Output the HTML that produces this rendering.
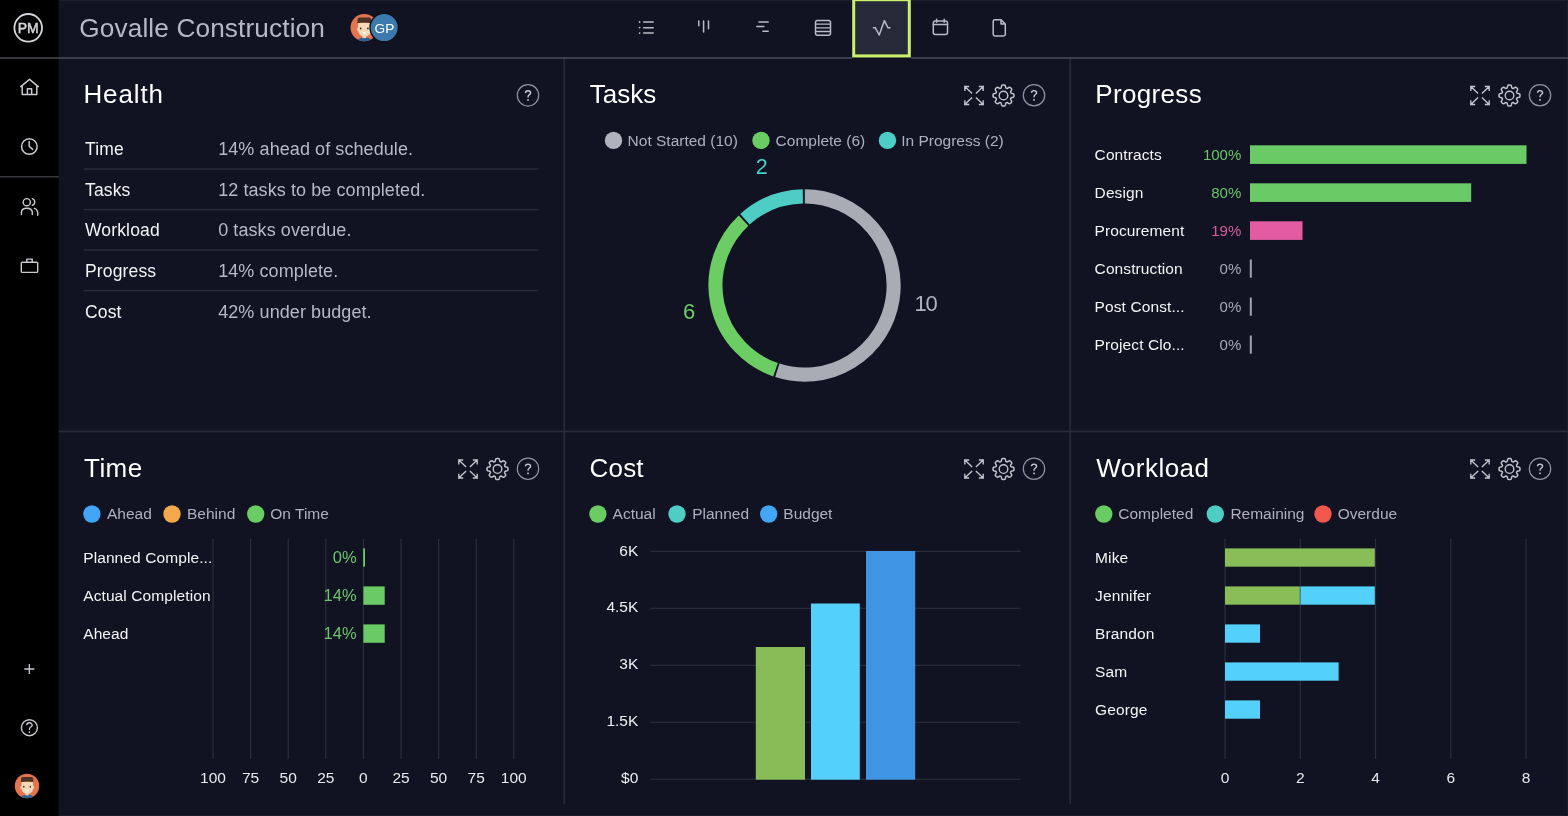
<!DOCTYPE html>
<html><head><meta charset="utf-8"><style>
html,body{margin:0;padding:0;background:#111322;width:1568px;height:816px;overflow:hidden}
svg{display:block;will-change:transform}
text{font-family:"Liberation Sans", sans-serif}
</style></head><body>
<svg width="1568" height="816" viewBox="0 0 1568 816">
<rect x="0" y="0" width="1568" height="816" fill="#111322"/>
<rect x="0" y="0" width="58.8" height="816" fill="#000"/>
<rect x="58.8" y="0" width="1.2" height="816" fill="#151624" opacity="0.8"/>
<rect x="59" y="0" width="1509" height="1.2" fill="#1c1e2b"/>
<rect x="1566.8" y="0" width="1.2" height="816" fill="#1b1d2a"/>
<rect x="58.8" y="815" width="1509" height="1" fill="#1a1c29"/>
<rect x="0" y="57" width="1568" height="2" fill="#3b3e4b"/>
<rect x="0" y="57" width="58.8" height="2" fill="#36373c"/>
<rect x="0" y="176" width="58.8" height="1.5" fill="#3a3b40"/>
<rect x="563.3" y="59" width="1.8" height="745" fill="#262936"/>
<rect x="1069.2" y="59" width="1.8" height="745" fill="#262936"/>
<rect x="58.8" y="430.6" width="1509" height="1.7" fill="#2a2c39"/>
<circle cx="28.2" cy="27.8" r="13.8" stroke="#d4d5da" stroke-width="1.8" fill="none"/>
<text x="28.2" y="33.2" font-size="14" fill="#d4d5da" text-anchor="middle" font-weight="normal" stroke="#d4d5da" stroke-width="0.5">PM</text>
<path d="M20.8 86.6 L29.5 79.4 L38.3 86.6 M22.2 85.4 V94.4 H36.8 V85.4 M27.4 94.4 V88.8 H31.6 V94.4" stroke="#c9cad0" stroke-width="1.5" fill="none" stroke-linejoin="round" stroke-linecap="round"/>
<circle cx="29.35" cy="146.5" r="7.8" stroke="#c9cad0" stroke-width="1.5" fill="none"/>
<path d="M29.2 141.6 V146.3 L32.6 149.4" stroke="#c9cad0" stroke-width="1.5" fill="none" stroke-linecap="round" stroke-linejoin="round"/>
<circle cx="26.8" cy="202.2" r="3.6" stroke="#c9cad0" stroke-width="1.4" fill="none"/>
<path d="M21.4 214.6 V212.6 Q21.4 208.3 26.8 208.3 Q32.3 208.3 32.3 212.6 V214.6" stroke="#c9cad0" stroke-width="1.4" fill="none" stroke-linecap="round"/>
<path d="M32.3 198.6 A3.6 3.6 0 0 1 32.3 205.4" stroke="#c9cad0" stroke-width="1.4" fill="none" stroke-linecap="round"/>
<path d="M34.3 208.3 A5 5 0 0 1 37.7 213 V215.3" stroke="#c9cad0" stroke-width="1.4" fill="none" stroke-linecap="round"/>
<rect x="21.3" y="262.3" width="16.4" height="10.1" rx="1" stroke="#c9cad0" stroke-width="1.4" fill="none"/>
<path d="M26.8 262.3 V259.1 H32.2 V262.3" stroke="#c9cad0" stroke-width="1.4" fill="none" stroke-linejoin="round"/>
<path d="M29.3 664 V674 M24.3 669 H34.3" stroke="#c9cad0" stroke-width="1.3" fill="none"/>
<circle cx="29.4" cy="727.7" r="8" stroke="#c9cad0" stroke-width="1.4" fill="none"/>
<path transform="translate(29.4,727.6) scale(0.95)" d="M-2.8 -2.6 C-2.8 -4.4 -1.6 -5.1 0 -5.1 C1.7 -5.1 2.9 -4.1 2.9 -2.6 C2.9 -0.7 0.1 -0.7 0.1 1.3 V2.4" stroke="#c9cad0" stroke-width="1.4" fill="none"/>
<rect x="28.65" y="731.4" width="1.5" height="1.5" fill="#c9cad0"/>
<g transform="translate(27,786) scale(1.000)">
<circle cx="0" cy="0" r="12.25" fill="#e4744f"/>
<clipPath id="avca"><circle cx="0" cy="0" r="12.25"/></clipPath>
<g clip-path="url(#avca)">
<ellipse cx="0.3" cy="11.8" rx="6" ry="3.2" fill="#2b5f96"/>
<rect x="-1.6" y="6" width="3.4" height="3.4" fill="#f3d3b3"/>
<ellipse cx="-5.6" cy="1.4" rx="1.1" ry="1.6" fill="#f0c9a4"/><ellipse cx="6.2" cy="1.4" rx="1.1" ry="1.6" fill="#f0c9a4"/>
<path d="M-5.4 -4.2 V2.5 Q-5.2 7.6 0.3 7.8 Q5.9 7.6 6 2.5 V-4.2 Z" fill="#f6d9b8"/>
<path d="M-6 -4 V-7.2 Q-6 -9 -4 -9 H4.4 Q6.3 -9 6.3 -7.2 V-4 Q0 -5.2 -6 -4 Z" fill="#4b3326"/>
<ellipse cx="-3.2" cy="0.8" rx="0.75" ry="0.95" fill="#3a2418"/><ellipse cx="3.3" cy="0.8" rx="0.75" ry="0.95" fill="#3a2418"/>
<ellipse cx="0.2" cy="4.7" rx="1.5" ry="0.8" fill="#ffffff"/>
</g></g>
<text x="79.3" y="37.1" font-size="26.2" fill="#b5b8c6" text-anchor="start" font-weight="normal" letter-spacing="0.13" >Govalle Construction</text>
<g transform="translate(364.2,27.6) scale(1.118)">
<circle cx="0" cy="0" r="12.25" fill="#e4744f"/>
<clipPath id="avcb"><circle cx="0" cy="0" r="12.25"/></clipPath>
<g clip-path="url(#avcb)">
<ellipse cx="0.3" cy="11.8" rx="6" ry="3.2" fill="#2b5f96"/>
<rect x="-1.6" y="6" width="3.4" height="3.4" fill="#f3d3b3"/>
<ellipse cx="-5.6" cy="1.4" rx="1.1" ry="1.6" fill="#f0c9a4"/><ellipse cx="6.2" cy="1.4" rx="1.1" ry="1.6" fill="#f0c9a4"/>
<path d="M-5.4 -4.2 V2.5 Q-5.2 7.6 0.3 7.8 Q5.9 7.6 6 2.5 V-4.2 Z" fill="#f6d9b8"/>
<path d="M-6 -4 V-7.2 Q-6 -9 -4 -9 H4.4 Q6.3 -9 6.3 -7.2 V-4 Q0 -5.2 -6 -4 Z" fill="#4b3326"/>
<ellipse cx="-3.2" cy="0.8" rx="0.75" ry="0.95" fill="#3a2418"/><ellipse cx="3.3" cy="0.8" rx="0.75" ry="0.95" fill="#3a2418"/>
<ellipse cx="0.2" cy="4.7" rx="1.5" ry="0.8" fill="#ffffff"/>
</g></g>
<circle cx="384.2" cy="27.6" r="14.2" fill="#3c79ad" stroke="#0d0f18" stroke-width="1.4"/>
<text x="384.4" y="32.8" font-size="13.6" fill="#ffffff" text-anchor="middle" font-weight="normal" >GP</text>
<rect x="852.2" y="57.4" width="58.6" height="1.6" fill="#0f111c"/><rect x="853.7" y="-0.3" width="55.6" height="56.2" fill="#262937" stroke="#cdf06a" stroke-width="3"/>
<path d="M643.7 22.1 H653.2 M643.7 27.7 H653.2 M643.7 33.1 H653.2" stroke="#b9bbc5" stroke-width="1.5" stroke-linecap="round"/>
<circle cx="639.6" cy="22" r="0.9" fill="#b9bbc5"/><circle cx="639.6" cy="27.6" r="0.9" fill="#b9bbc5"/><circle cx="639.6" cy="33.1" r="0.9" fill="#b9bbc5"/>
<path d="M698.8 21.0 V25.8 M703.6 21.0 V32.0 M708.5 21.0 V28.8" stroke="#b9bbc5" stroke-width="1.5" stroke-linecap="round"/>
<path d="M758.9 21.9 H768.2 M756.8 26.6 H763.9 M762.9 31.3 H768.2" stroke="#b9bbc5" stroke-width="1.5" stroke-linecap="round"/>
<rect x="815.5" y="20.4" width="15" height="14.8" rx="2" stroke="#b9bbc5" stroke-width="1.5" fill="none"/>
<path d="M815.5 24.1 H830.5 M815.5 27.8 H830.5 M815.5 31.5 H830.5" stroke="#b9bbc5" stroke-width="1.3"/>
<path d="M873.4 27.7 H875.2 L879.2 35 L884.4 20.6 L887.9 27.7 H890" stroke="#b9bbc5" stroke-width="1.5" fill="none" stroke-linecap="round" stroke-linejoin="round"/>
<rect x="933.3" y="21" width="14.2" height="13.6" rx="2" stroke="#b9bbc5" stroke-width="1.5" fill="none"/>
<path d="M933.3 24.6 H947.5 M936.6 19.2 V22.2 M944.2 19.2 V22.2" stroke="#b9bbc5" stroke-width="1.5" stroke-linecap="round"/>
<path d="M994.8 19.8 H1001 L1005.3 24.1 V34.3 Q1005.3 36 1003.6 36 H994.8 Q993.2 36 993.2 34.3 V21.5 Q993.2 19.8 994.8 19.8 Z M1001 19.8 V24.1 H1005.3" stroke="#b9bbc5" stroke-width="1.5" fill="none" stroke-linejoin="round"/>
<text x="83.4" y="103" font-size="26" fill="#ffffff" text-anchor="start" font-weight="normal" letter-spacing="0.9" >Health</text>
<circle cx="528" cy="95.3" r="10.7" stroke="#8f919d" stroke-width="1.25" fill="none"/>
<path transform="translate(528,95.3) scale(0.9)" d="M-2.8 -2.6 C-2.8 -4.4 -1.6 -5.1 0 -5.1 C1.7 -5.1 2.9 -4.1 2.9 -2.6 C2.9 -0.7 0.1 -0.7 0.1 1.3 V2.4" stroke="#cbcdd5" stroke-width="1.5" fill="none" stroke-linecap="butt"/>
<rect x="527.20" y="99.20" width="1.6" height="1.6" fill="#cbcdd5"/>
<text x="85.0" y="155.3" font-size="17.5" fill="#f4f4f6" text-anchor="start" font-weight="normal" letter-spacing="0.15" >Time</text>
<text x="218.2" y="155.3" font-size="18" fill="#b7bac5" text-anchor="start" font-weight="normal" letter-spacing="0.08" >14% ahead of schedule.</text>
<text x="85.0" y="195.85000000000002" font-size="17.5" fill="#f4f4f6" text-anchor="start" font-weight="normal" letter-spacing="0.15" >Tasks</text>
<text x="218.2" y="195.85000000000002" font-size="18" fill="#b7bac5" text-anchor="start" font-weight="normal" letter-spacing="0.08" >12 tasks to be completed.</text>
<text x="85.0" y="236.4" font-size="17.5" fill="#f4f4f6" text-anchor="start" font-weight="normal" letter-spacing="0.15" >Workload</text>
<text x="218.2" y="236.4" font-size="18" fill="#b7bac5" text-anchor="start" font-weight="normal" letter-spacing="0.08" >0 tasks overdue.</text>
<text x="85.0" y="276.95" font-size="17.5" fill="#f4f4f6" text-anchor="start" font-weight="normal" letter-spacing="0.15" >Progress</text>
<text x="218.2" y="276.95" font-size="18" fill="#b7bac5" text-anchor="start" font-weight="normal" letter-spacing="0.08" >14% complete.</text>
<text x="85.0" y="317.5" font-size="17.5" fill="#f4f4f6" text-anchor="start" font-weight="normal" letter-spacing="0.15" >Cost</text>
<text x="218.2" y="317.5" font-size="18" fill="#b7bac5" text-anchor="start" font-weight="normal" letter-spacing="0.08" >42% under budget.</text>
<rect x="83.6" y="168.30" width="455" height="1.4" fill="#2a2d3a"/>
<rect x="83.6" y="208.85" width="455" height="1.4" fill="#2a2d3a"/>
<rect x="83.6" y="249.40" width="455" height="1.4" fill="#2a2d3a"/>
<rect x="83.6" y="289.95" width="455" height="1.4" fill="#2a2d3a"/>
<text x="589.8" y="103" font-size="26" fill="#ffffff" text-anchor="start" font-weight="normal" >Tasks</text>
<circle cx="1034" cy="95.2" r="10.7" stroke="#8f919d" stroke-width="1.25" fill="none"/>
<path transform="translate(1034,95.2) scale(0.9)" d="M-2.8 -2.6 C-2.8 -4.4 -1.6 -5.1 0 -5.1 C1.7 -5.1 2.9 -4.1 2.9 -2.6 C2.9 -0.7 0.1 -0.7 0.1 1.3 V2.4" stroke="#cbcdd5" stroke-width="1.5" fill="none" stroke-linecap="butt"/>
<rect x="1033.20" y="99.10" width="1.6" height="1.6" fill="#cbcdd5"/>
<path d="M1003.50 85.00 L1003.91 85.01 L1004.32 85.06 L1004.72 85.18 L1005.09 85.44 L1005.39 86.01 L1005.58 86.85 L1005.74 87.56 L1005.95 87.97 L1006.20 88.19 L1006.47 88.34 L1006.76 88.43 L1007.09 88.45 L1007.53 88.31 L1008.15 87.92 L1008.88 87.46 L1009.49 87.26 L1009.93 87.34 L1010.30 87.54 L1010.62 87.79 L1010.92 88.08 L1011.21 88.38 L1011.46 88.70 L1011.66 89.07 L1011.74 89.51 L1011.54 90.12 L1011.08 90.85 L1010.69 91.47 L1010.55 91.91 L1010.57 92.24 L1010.66 92.53 L1010.81 92.80 L1011.03 93.05 L1011.44 93.26 L1012.15 93.42 L1012.99 93.61 L1013.56 93.91 L1013.82 94.28 L1013.94 94.68 L1013.99 95.09 L1014.00 95.50 L1013.99 95.91 L1013.94 96.32 L1013.82 96.72 L1013.56 97.09 L1012.99 97.39 L1012.15 97.58 L1011.44 97.74 L1011.03 97.95 L1010.81 98.20 L1010.66 98.47 L1010.57 98.76 L1010.55 99.09 L1010.69 99.53 L1011.08 100.15 L1011.54 100.88 L1011.74 101.49 L1011.66 101.93 L1011.46 102.30 L1011.21 102.62 L1010.92 102.92 L1010.62 103.21 L1010.30 103.46 L1009.93 103.66 L1009.49 103.74 L1008.88 103.54 L1008.15 103.08 L1007.53 102.69 L1007.09 102.55 L1006.76 102.57 L1006.47 102.66 L1006.20 102.81 L1005.95 103.03 L1005.74 103.44 L1005.58 104.15 L1005.39 104.99 L1005.09 105.56 L1004.72 105.82 L1004.32 105.94 L1003.91 105.99 L1003.50 106.00 L1003.09 105.99 L1002.68 105.94 L1002.28 105.82 L1001.91 105.56 L1001.61 104.99 L1001.42 104.15 L1001.26 103.44 L1001.05 103.03 L1000.80 102.81 L1000.53 102.66 L1000.24 102.57 L999.91 102.55 L999.47 102.69 L998.85 103.08 L998.12 103.54 L997.51 103.74 L997.07 103.66 L996.70 103.46 L996.38 103.21 L996.08 102.92 L995.79 102.62 L995.54 102.30 L995.34 101.93 L995.26 101.49 L995.46 100.88 L995.92 100.15 L996.31 99.53 L996.45 99.09 L996.43 98.76 L996.34 98.47 L996.19 98.20 L995.97 97.95 L995.56 97.74 L994.85 97.58 L994.01 97.39 L993.44 97.09 L993.18 96.72 L993.06 96.32 L993.01 95.91 L993.00 95.50 L993.01 95.09 L993.06 94.68 L993.18 94.28 L993.44 93.91 L994.01 93.61 L994.85 93.42 L995.56 93.26 L995.97 93.05 L996.19 92.80 L996.34 92.53 L996.43 92.24 L996.45 91.91 L996.31 91.47 L995.92 90.85 L995.46 90.12 L995.26 89.51 L995.34 89.07 L995.54 88.70 L995.79 88.38 L996.08 88.08 L996.38 87.79 L996.70 87.54 L997.07 87.34 L997.51 87.26 L998.12 87.46 L998.85 87.92 L999.47 88.31 L999.91 88.45 L1000.24 88.43 L1000.53 88.34 L1000.80 88.19 L1001.05 87.97 L1001.26 87.56 L1001.42 86.85 L1001.61 86.01 L1001.91 85.44 L1002.28 85.18 L1002.68 85.06 L1003.09 85.01Z" stroke="#c3c5cd" stroke-width="1.45" fill="none" stroke-linejoin="round"/>
<circle cx="1003.5" cy="95.5" r="4.3" stroke="#c3c5cd" stroke-width="1.35" fill="none"/>
<path d="M971.6 93.1L964.8 86.5 M968.5 86.5L964.8 86.5L964.8 90.2 M976.4 93.1L983.2 86.5 M979.5 86.5L983.2 86.5L983.2 90.2 M971.6 97.9L964.8 104.5 M968.5 104.5L964.8 104.5L964.8 100.8 M976.4 97.9L983.2 104.5 M979.5 104.5L983.2 104.5L983.2 100.8" stroke="#c3c5cd" stroke-width="1.35" fill="none" stroke-linecap="square" stroke-linejoin="miter"/>
<circle cx="613.5" cy="140.4" r="8.7" fill="#b0b3bd"/>
<text x="627.6" y="145.8" font-size="15.5" fill="#aeb1bc" text-anchor="start" font-weight="normal" >Not Started (10)</text>
<circle cx="761" cy="140.4" r="8.7" fill="#6acd63"/>
<text x="775.6" y="145.8" font-size="15.5" fill="#aeb1bc" text-anchor="start" font-weight="normal" >Complete (6)</text>
<circle cx="887.5" cy="140.4" r="8.7" fill="#4ecdc4"/>
<text x="901.2" y="145.8" font-size="15.5" fill="#aeb1bc" text-anchor="start" font-weight="normal" >In Progress (2)</text>
<path d="M804.86 196.40 A89.1 89.1 0 1 1 777.31 370.33" stroke="#a9acb5" stroke-width="14.1" fill="none"/>
<path d="M775.54 369.75 A89.1 89.1 0 0 1 743.56 220.55" stroke="#6dcd65" stroke-width="14.1" fill="none"/>
<path d="M744.93 219.29 A89.1 89.1 0 0 1 802.84 196.42" stroke="#4ecdc4" stroke-width="14.1" fill="none"/>
<text x="761.8" y="174.4" font-size="21.5" fill="#4ecdc4" text-anchor="middle" font-weight="normal" >2</text>
<text x="925.4" y="311" font-size="22" fill="#b0b3bd" text-anchor="middle" font-weight="normal" letter-spacing="-1.3" >10</text>
<text x="689" y="318.6" font-size="22" fill="#6dcd65" text-anchor="middle" font-weight="normal" >6</text>
<text x="1095.2" y="103" font-size="26" fill="#ffffff" text-anchor="start" font-weight="normal" letter-spacing="0.35" >Progress</text>
<circle cx="1540" cy="95.2" r="10.7" stroke="#8f919d" stroke-width="1.25" fill="none"/>
<path transform="translate(1540,95.2) scale(0.9)" d="M-2.8 -2.6 C-2.8 -4.4 -1.6 -5.1 0 -5.1 C1.7 -5.1 2.9 -4.1 2.9 -2.6 C2.9 -0.7 0.1 -0.7 0.1 1.3 V2.4" stroke="#cbcdd5" stroke-width="1.5" fill="none" stroke-linecap="butt"/>
<rect x="1539.20" y="99.10" width="1.6" height="1.6" fill="#cbcdd5"/>
<path d="M1509.50 85.00 L1509.91 85.01 L1510.32 85.06 L1510.72 85.18 L1511.09 85.44 L1511.39 86.01 L1511.58 86.85 L1511.74 87.56 L1511.95 87.97 L1512.20 88.19 L1512.47 88.34 L1512.76 88.43 L1513.09 88.45 L1513.53 88.31 L1514.15 87.92 L1514.88 87.46 L1515.49 87.26 L1515.93 87.34 L1516.30 87.54 L1516.62 87.79 L1516.92 88.08 L1517.21 88.38 L1517.46 88.70 L1517.66 89.07 L1517.74 89.51 L1517.54 90.12 L1517.08 90.85 L1516.69 91.47 L1516.55 91.91 L1516.57 92.24 L1516.66 92.53 L1516.81 92.80 L1517.03 93.05 L1517.44 93.26 L1518.15 93.42 L1518.99 93.61 L1519.56 93.91 L1519.82 94.28 L1519.94 94.68 L1519.99 95.09 L1520.00 95.50 L1519.99 95.91 L1519.94 96.32 L1519.82 96.72 L1519.56 97.09 L1518.99 97.39 L1518.15 97.58 L1517.44 97.74 L1517.03 97.95 L1516.81 98.20 L1516.66 98.47 L1516.57 98.76 L1516.55 99.09 L1516.69 99.53 L1517.08 100.15 L1517.54 100.88 L1517.74 101.49 L1517.66 101.93 L1517.46 102.30 L1517.21 102.62 L1516.92 102.92 L1516.62 103.21 L1516.30 103.46 L1515.93 103.66 L1515.49 103.74 L1514.88 103.54 L1514.15 103.08 L1513.53 102.69 L1513.09 102.55 L1512.76 102.57 L1512.47 102.66 L1512.20 102.81 L1511.95 103.03 L1511.74 103.44 L1511.58 104.15 L1511.39 104.99 L1511.09 105.56 L1510.72 105.82 L1510.32 105.94 L1509.91 105.99 L1509.50 106.00 L1509.09 105.99 L1508.68 105.94 L1508.28 105.82 L1507.91 105.56 L1507.61 104.99 L1507.42 104.15 L1507.26 103.44 L1507.05 103.03 L1506.80 102.81 L1506.53 102.66 L1506.24 102.57 L1505.91 102.55 L1505.47 102.69 L1504.85 103.08 L1504.12 103.54 L1503.51 103.74 L1503.07 103.66 L1502.70 103.46 L1502.38 103.21 L1502.08 102.92 L1501.79 102.62 L1501.54 102.30 L1501.34 101.93 L1501.26 101.49 L1501.46 100.88 L1501.92 100.15 L1502.31 99.53 L1502.45 99.09 L1502.43 98.76 L1502.34 98.47 L1502.19 98.20 L1501.97 97.95 L1501.56 97.74 L1500.85 97.58 L1500.01 97.39 L1499.44 97.09 L1499.18 96.72 L1499.06 96.32 L1499.01 95.91 L1499.00 95.50 L1499.01 95.09 L1499.06 94.68 L1499.18 94.28 L1499.44 93.91 L1500.01 93.61 L1500.85 93.42 L1501.56 93.26 L1501.97 93.05 L1502.19 92.80 L1502.34 92.53 L1502.43 92.24 L1502.45 91.91 L1502.31 91.47 L1501.92 90.85 L1501.46 90.12 L1501.26 89.51 L1501.34 89.07 L1501.54 88.70 L1501.79 88.38 L1502.08 88.08 L1502.38 87.79 L1502.70 87.54 L1503.07 87.34 L1503.51 87.26 L1504.12 87.46 L1504.85 87.92 L1505.47 88.31 L1505.91 88.45 L1506.24 88.43 L1506.53 88.34 L1506.80 88.19 L1507.05 87.97 L1507.26 87.56 L1507.42 86.85 L1507.61 86.01 L1507.91 85.44 L1508.28 85.18 L1508.68 85.06 L1509.09 85.01Z" stroke="#c3c5cd" stroke-width="1.45" fill="none" stroke-linejoin="round"/>
<circle cx="1509.5" cy="95.5" r="4.3" stroke="#c3c5cd" stroke-width="1.35" fill="none"/>
<path d="M1477.6 93.1L1470.8 86.5 M1474.5 86.5L1470.8 86.5L1470.8 90.2 M1482.4 93.1L1489.2 86.5 M1485.5 86.5L1489.2 86.5L1489.2 90.2 M1477.6 97.9L1470.8 104.5 M1474.5 104.5L1470.8 104.5L1470.8 100.8 M1482.4 97.9L1489.2 104.5 M1485.5 104.5L1489.2 104.5L1489.2 100.8" stroke="#c3c5cd" stroke-width="1.35" fill="none" stroke-linecap="square" stroke-linejoin="miter"/>
<text x="1094.6" y="159.9" font-size="15.5" fill="#f4f4f6" text-anchor="start" font-weight="normal" letter-spacing="0.1" >Contracts</text>
<text x="1241.3" y="159.9" font-size="15" fill="#6bc66a" text-anchor="end" font-weight="normal" >100%</text>
<rect x="1250" y="145.3" width="276.5" height="18.6" fill="#6acb66"/>
<text x="1094.6" y="197.9" font-size="15.5" fill="#f4f4f6" text-anchor="start" font-weight="normal" letter-spacing="0.1" >Design</text>
<text x="1241.3" y="197.9" font-size="15" fill="#6bc66a" text-anchor="end" font-weight="normal" >80%</text>
<rect x="1250" y="183.3" width="221.2" height="18.6" fill="#6acb66"/>
<text x="1094.6" y="235.9" font-size="15.5" fill="#f4f4f6" text-anchor="start" font-weight="normal" letter-spacing="0.1" >Procurement</text>
<text x="1241.3" y="235.9" font-size="15" fill="#d65d9f" text-anchor="end" font-weight="normal" >19%</text>
<rect x="1250" y="221.3" width="52.5" height="18.6" fill="#e35ca2"/>
<text x="1094.6" y="273.9" font-size="15.5" fill="#f4f4f6" text-anchor="start" font-weight="normal" letter-spacing="0.1" >Construction</text>
<text x="1241.3" y="273.9" font-size="15" fill="#a7aab5" text-anchor="end" font-weight="normal" >0%</text>
<rect x="1249.8" y="259.5" width="2" height="18.2" fill="#a0a3ae"/>
<text x="1094.6" y="311.9" font-size="15.5" fill="#f4f4f6" text-anchor="start" font-weight="normal" letter-spacing="0.1" >Post Const...</text>
<text x="1241.3" y="311.9" font-size="15" fill="#a7aab5" text-anchor="end" font-weight="normal" >0%</text>
<rect x="1249.8" y="297.5" width="2" height="18.2" fill="#a0a3ae"/>
<text x="1094.6" y="349.9" font-size="15.5" fill="#f4f4f6" text-anchor="start" font-weight="normal" letter-spacing="0.1" >Project Clo...</text>
<text x="1241.3" y="349.9" font-size="15" fill="#a7aab5" text-anchor="end" font-weight="normal" >0%</text>
<rect x="1249.8" y="335.5" width="2" height="18.2" fill="#a0a3ae"/>
<text x="84.1" y="477" font-size="26" fill="#ffffff" text-anchor="start" font-weight="normal" letter-spacing="0.4" >Time</text>
<circle cx="528" cy="468.7" r="10.7" stroke="#8f919d" stroke-width="1.25" fill="none"/>
<path transform="translate(528,468.7) scale(0.9)" d="M-2.8 -2.6 C-2.8 -4.4 -1.6 -5.1 0 -5.1 C1.7 -5.1 2.9 -4.1 2.9 -2.6 C2.9 -0.7 0.1 -0.7 0.1 1.3 V2.4" stroke="#cbcdd5" stroke-width="1.5" fill="none" stroke-linecap="butt"/>
<rect x="527.20" y="472.60" width="1.6" height="1.6" fill="#cbcdd5"/>
<path d="M497.50 458.50 L497.91 458.51 L498.32 458.56 L498.72 458.68 L499.09 458.94 L499.39 459.51 L499.58 460.35 L499.74 461.06 L499.95 461.47 L500.20 461.69 L500.47 461.84 L500.76 461.93 L501.09 461.95 L501.53 461.81 L502.15 461.42 L502.88 460.96 L503.49 460.76 L503.93 460.84 L504.30 461.04 L504.62 461.29 L504.92 461.58 L505.21 461.88 L505.46 462.20 L505.66 462.57 L505.74 463.01 L505.54 463.62 L505.08 464.35 L504.69 464.97 L504.55 465.41 L504.57 465.74 L504.66 466.03 L504.81 466.30 L505.03 466.55 L505.44 466.76 L506.15 466.92 L506.99 467.11 L507.56 467.41 L507.82 467.78 L507.94 468.18 L507.99 468.59 L508.00 469.00 L507.99 469.41 L507.94 469.82 L507.82 470.22 L507.56 470.59 L506.99 470.89 L506.15 471.08 L505.44 471.24 L505.03 471.45 L504.81 471.70 L504.66 471.97 L504.57 472.26 L504.55 472.59 L504.69 473.03 L505.08 473.65 L505.54 474.38 L505.74 474.99 L505.66 475.43 L505.46 475.80 L505.21 476.12 L504.92 476.42 L504.62 476.71 L504.30 476.96 L503.93 477.16 L503.49 477.24 L502.88 477.04 L502.15 476.58 L501.53 476.19 L501.09 476.05 L500.76 476.07 L500.47 476.16 L500.20 476.31 L499.95 476.53 L499.74 476.94 L499.58 477.65 L499.39 478.49 L499.09 479.06 L498.72 479.32 L498.32 479.44 L497.91 479.49 L497.50 479.50 L497.09 479.49 L496.68 479.44 L496.28 479.32 L495.91 479.06 L495.61 478.49 L495.42 477.65 L495.26 476.94 L495.05 476.53 L494.80 476.31 L494.53 476.16 L494.24 476.07 L493.91 476.05 L493.47 476.19 L492.85 476.58 L492.12 477.04 L491.51 477.24 L491.07 477.16 L490.70 476.96 L490.38 476.71 L490.08 476.42 L489.79 476.12 L489.54 475.80 L489.34 475.43 L489.26 474.99 L489.46 474.38 L489.92 473.65 L490.31 473.03 L490.45 472.59 L490.43 472.26 L490.34 471.97 L490.19 471.70 L489.97 471.45 L489.56 471.24 L488.85 471.08 L488.01 470.89 L487.44 470.59 L487.18 470.22 L487.06 469.82 L487.01 469.41 L487.00 469.00 L487.01 468.59 L487.06 468.18 L487.18 467.78 L487.44 467.41 L488.01 467.11 L488.85 466.92 L489.56 466.76 L489.97 466.55 L490.19 466.30 L490.34 466.03 L490.43 465.74 L490.45 465.41 L490.31 464.97 L489.92 464.35 L489.46 463.62 L489.26 463.01 L489.34 462.57 L489.54 462.20 L489.79 461.88 L490.08 461.58 L490.38 461.29 L490.70 461.04 L491.07 460.84 L491.51 460.76 L492.12 460.96 L492.85 461.42 L493.47 461.81 L493.91 461.95 L494.24 461.93 L494.53 461.84 L494.80 461.69 L495.05 461.47 L495.26 461.06 L495.42 460.35 L495.61 459.51 L495.91 458.94 L496.28 458.68 L496.68 458.56 L497.09 458.51Z" stroke="#c3c5cd" stroke-width="1.45" fill="none" stroke-linejoin="round"/>
<circle cx="497.5" cy="469" r="4.3" stroke="#c3c5cd" stroke-width="1.35" fill="none"/>
<path d="M465.6 466.6L458.8 460.0 M462.5 460.0L458.8 460.0L458.8 463.7 M470.4 466.6L477.2 460.0 M473.5 460.0L477.2 460.0L477.2 463.7 M465.6 471.4L458.8 478.0 M462.5 478.0L458.8 478.0L458.8 474.3 M470.4 471.4L477.2 478.0 M473.5 478.0L477.2 478.0L477.2 474.3" stroke="#c3c5cd" stroke-width="1.35" fill="none" stroke-linecap="square" stroke-linejoin="miter"/>
<circle cx="91.9" cy="514" r="8.7" fill="#42a5f5"/>
<text x="107.0" y="519.4" font-size="15.5" fill="#aeb1bc" text-anchor="start" font-weight="normal" >Ahead</text>
<circle cx="172" cy="514" r="8.7" fill="#f6a94b"/>
<text x="187.0" y="519.4" font-size="15.5" fill="#aeb1bc" text-anchor="start" font-weight="normal" >Behind</text>
<circle cx="255.7" cy="514" r="8.7" fill="#6acd63"/>
<text x="270.3" y="519.4" font-size="15.5" fill="#aeb1bc" text-anchor="start" font-weight="normal" >On Time</text>
<rect x="212.40" y="539" width="1.2" height="220" fill="#2b2e3b"/>
<rect x="250.00" y="539" width="1.2" height="220" fill="#2b2e3b"/>
<rect x="287.60" y="539" width="1.2" height="220" fill="#2b2e3b"/>
<rect x="325.20" y="539" width="1.2" height="220" fill="#2b2e3b"/>
<rect x="362.80" y="539" width="1.2" height="220" fill="#2b2e3b"/>
<rect x="400.40" y="539" width="1.2" height="220" fill="#2b2e3b"/>
<rect x="438.00" y="539" width="1.2" height="220" fill="#2b2e3b"/>
<rect x="475.60" y="539" width="1.2" height="220" fill="#2b2e3b"/>
<rect x="513.20" y="539" width="1.2" height="220" fill="#2b2e3b"/>
<text x="213.0" y="783.4" font-size="15.5" fill="#e9e9ed" text-anchor="middle" font-weight="normal" >100</text>
<text x="250.6" y="783.4" font-size="15.5" fill="#e9e9ed" text-anchor="middle" font-weight="normal" >75</text>
<text x="288.2" y="783.4" font-size="15.5" fill="#e9e9ed" text-anchor="middle" font-weight="normal" >50</text>
<text x="325.8" y="783.4" font-size="15.5" fill="#e9e9ed" text-anchor="middle" font-weight="normal" >25</text>
<text x="363.4" y="783.4" font-size="15.5" fill="#e9e9ed" text-anchor="middle" font-weight="normal" >0</text>
<text x="401.0" y="783.4" font-size="15.5" fill="#e9e9ed" text-anchor="middle" font-weight="normal" >25</text>
<text x="438.6" y="783.4" font-size="15.5" fill="#e9e9ed" text-anchor="middle" font-weight="normal" >50</text>
<text x="476.2" y="783.4" font-size="15.5" fill="#e9e9ed" text-anchor="middle" font-weight="normal" >75</text>
<text x="513.8" y="783.4" font-size="15.5" fill="#e9e9ed" text-anchor="middle" font-weight="normal" >100</text>
<text x="83.2" y="562.8" font-size="15.5" fill="#f4f4f6" text-anchor="start" font-weight="normal" letter-spacing="0.1" >Planned Comple...</text>
<text x="356.6" y="562.8" font-size="16.5" fill="#6cc46a" text-anchor="end" font-weight="normal" >0%</text>
<rect x="363.2" y="548.4" width="1.8" height="18.2" fill="#6acb66"/>
<text x="83.2" y="600.8" font-size="15.5" fill="#f4f4f6" text-anchor="start" font-weight="normal" letter-spacing="0.1" >Actual Completion</text>
<text x="356.6" y="600.8" font-size="16.5" fill="#6cc46a" text-anchor="end" font-weight="normal" >14%</text>
<rect x="363.4" y="586.4" width="21.3" height="18.4" fill="#6acb66"/>
<text x="83.2" y="638.8" font-size="15.5" fill="#f4f4f6" text-anchor="start" font-weight="normal" letter-spacing="0.1" >Ahead</text>
<text x="356.6" y="638.8" font-size="16.5" fill="#6cc46a" text-anchor="end" font-weight="normal" >14%</text>
<rect x="363.4" y="624.4" width="21.3" height="18.4" fill="#6acb66"/>
<text x="589.6" y="477" font-size="26" fill="#ffffff" text-anchor="start" font-weight="normal" letter-spacing="0.15" >Cost</text>
<circle cx="1034" cy="468.7" r="10.7" stroke="#8f919d" stroke-width="1.25" fill="none"/>
<path transform="translate(1034,468.7) scale(0.9)" d="M-2.8 -2.6 C-2.8 -4.4 -1.6 -5.1 0 -5.1 C1.7 -5.1 2.9 -4.1 2.9 -2.6 C2.9 -0.7 0.1 -0.7 0.1 1.3 V2.4" stroke="#cbcdd5" stroke-width="1.5" fill="none" stroke-linecap="butt"/>
<rect x="1033.20" y="472.60" width="1.6" height="1.6" fill="#cbcdd5"/>
<path d="M1003.50 458.50 L1003.91 458.51 L1004.32 458.56 L1004.72 458.68 L1005.09 458.94 L1005.39 459.51 L1005.58 460.35 L1005.74 461.06 L1005.95 461.47 L1006.20 461.69 L1006.47 461.84 L1006.76 461.93 L1007.09 461.95 L1007.53 461.81 L1008.15 461.42 L1008.88 460.96 L1009.49 460.76 L1009.93 460.84 L1010.30 461.04 L1010.62 461.29 L1010.92 461.58 L1011.21 461.88 L1011.46 462.20 L1011.66 462.57 L1011.74 463.01 L1011.54 463.62 L1011.08 464.35 L1010.69 464.97 L1010.55 465.41 L1010.57 465.74 L1010.66 466.03 L1010.81 466.30 L1011.03 466.55 L1011.44 466.76 L1012.15 466.92 L1012.99 467.11 L1013.56 467.41 L1013.82 467.78 L1013.94 468.18 L1013.99 468.59 L1014.00 469.00 L1013.99 469.41 L1013.94 469.82 L1013.82 470.22 L1013.56 470.59 L1012.99 470.89 L1012.15 471.08 L1011.44 471.24 L1011.03 471.45 L1010.81 471.70 L1010.66 471.97 L1010.57 472.26 L1010.55 472.59 L1010.69 473.03 L1011.08 473.65 L1011.54 474.38 L1011.74 474.99 L1011.66 475.43 L1011.46 475.80 L1011.21 476.12 L1010.92 476.42 L1010.62 476.71 L1010.30 476.96 L1009.93 477.16 L1009.49 477.24 L1008.88 477.04 L1008.15 476.58 L1007.53 476.19 L1007.09 476.05 L1006.76 476.07 L1006.47 476.16 L1006.20 476.31 L1005.95 476.53 L1005.74 476.94 L1005.58 477.65 L1005.39 478.49 L1005.09 479.06 L1004.72 479.32 L1004.32 479.44 L1003.91 479.49 L1003.50 479.50 L1003.09 479.49 L1002.68 479.44 L1002.28 479.32 L1001.91 479.06 L1001.61 478.49 L1001.42 477.65 L1001.26 476.94 L1001.05 476.53 L1000.80 476.31 L1000.53 476.16 L1000.24 476.07 L999.91 476.05 L999.47 476.19 L998.85 476.58 L998.12 477.04 L997.51 477.24 L997.07 477.16 L996.70 476.96 L996.38 476.71 L996.08 476.42 L995.79 476.12 L995.54 475.80 L995.34 475.43 L995.26 474.99 L995.46 474.38 L995.92 473.65 L996.31 473.03 L996.45 472.59 L996.43 472.26 L996.34 471.97 L996.19 471.70 L995.97 471.45 L995.56 471.24 L994.85 471.08 L994.01 470.89 L993.44 470.59 L993.18 470.22 L993.06 469.82 L993.01 469.41 L993.00 469.00 L993.01 468.59 L993.06 468.18 L993.18 467.78 L993.44 467.41 L994.01 467.11 L994.85 466.92 L995.56 466.76 L995.97 466.55 L996.19 466.30 L996.34 466.03 L996.43 465.74 L996.45 465.41 L996.31 464.97 L995.92 464.35 L995.46 463.62 L995.26 463.01 L995.34 462.57 L995.54 462.20 L995.79 461.88 L996.08 461.58 L996.38 461.29 L996.70 461.04 L997.07 460.84 L997.51 460.76 L998.12 460.96 L998.85 461.42 L999.47 461.81 L999.91 461.95 L1000.24 461.93 L1000.53 461.84 L1000.80 461.69 L1001.05 461.47 L1001.26 461.06 L1001.42 460.35 L1001.61 459.51 L1001.91 458.94 L1002.28 458.68 L1002.68 458.56 L1003.09 458.51Z" stroke="#c3c5cd" stroke-width="1.45" fill="none" stroke-linejoin="round"/>
<circle cx="1003.5" cy="469" r="4.3" stroke="#c3c5cd" stroke-width="1.35" fill="none"/>
<path d="M971.6 466.6L964.8 460.0 M968.5 460.0L964.8 460.0L964.8 463.7 M976.4 466.6L983.2 460.0 M979.5 460.0L983.2 460.0L983.2 463.7 M971.6 471.4L964.8 478.0 M968.5 478.0L964.8 478.0L964.8 474.3 M976.4 471.4L983.2 478.0 M979.5 478.0L983.2 478.0L983.2 474.3" stroke="#c3c5cd" stroke-width="1.35" fill="none" stroke-linecap="square" stroke-linejoin="miter"/>
<circle cx="597.9" cy="514" r="8.7" fill="#6acd63"/>
<text x="612.6" y="519.4" font-size="15.5" fill="#aeb1bc" text-anchor="start" font-weight="normal" >Actual</text>
<circle cx="677" cy="514" r="8.7" fill="#4ecdc4"/>
<text x="692.2" y="519.4" font-size="15.5" fill="#aeb1bc" text-anchor="start" font-weight="normal" >Planned</text>
<circle cx="768.7" cy="514" r="8.7" fill="#42a5f5"/>
<text x="783.3" y="519.4" font-size="15.5" fill="#aeb1bc" text-anchor="start" font-weight="normal" >Budget</text>
<rect x="650.5" y="550.80" width="370" height="1.2" fill="#2b2e3b"/>
<text x="638.3" y="555.5" font-size="15.5" fill="#f0f0f3" text-anchor="end" font-weight="normal" >6K</text>
<rect x="650.5" y="607.75" width="370" height="1.2" fill="#2b2e3b"/>
<text x="638.3" y="612.45" font-size="15.5" fill="#f0f0f3" text-anchor="end" font-weight="normal" >4.5K</text>
<rect x="650.5" y="664.70" width="370" height="1.2" fill="#2b2e3b"/>
<text x="638.3" y="669.4" font-size="15.5" fill="#f0f0f3" text-anchor="end" font-weight="normal" >3K</text>
<rect x="650.5" y="721.65" width="370" height="1.2" fill="#2b2e3b"/>
<text x="638.3" y="726.35" font-size="15.5" fill="#f0f0f3" text-anchor="end" font-weight="normal" >1.5K</text>
<rect x="650.5" y="778.60" width="370" height="1.2" fill="#2b2e3b"/>
<text x="638.3" y="783.3000000000001" font-size="15.5" fill="#f0f0f3" text-anchor="end" font-weight="normal" >$0</text>
<rect x="755.8" y="647" width="49.2" height="132.7" fill="#87bc56"/>
<rect x="811" y="603.5" width="48.8" height="176.2" fill="#54d1fb"/>
<rect x="866" y="551" width="49.2" height="228.7" fill="#3f94e3"/>
<text x="1096.2" y="477" font-size="26" fill="#ffffff" text-anchor="start" font-weight="normal" letter-spacing="0.5" >Workload</text>
<circle cx="1540" cy="468.7" r="10.7" stroke="#8f919d" stroke-width="1.25" fill="none"/>
<path transform="translate(1540,468.7) scale(0.9)" d="M-2.8 -2.6 C-2.8 -4.4 -1.6 -5.1 0 -5.1 C1.7 -5.1 2.9 -4.1 2.9 -2.6 C2.9 -0.7 0.1 -0.7 0.1 1.3 V2.4" stroke="#cbcdd5" stroke-width="1.5" fill="none" stroke-linecap="butt"/>
<rect x="1539.20" y="472.60" width="1.6" height="1.6" fill="#cbcdd5"/>
<path d="M1509.50 458.50 L1509.91 458.51 L1510.32 458.56 L1510.72 458.68 L1511.09 458.94 L1511.39 459.51 L1511.58 460.35 L1511.74 461.06 L1511.95 461.47 L1512.20 461.69 L1512.47 461.84 L1512.76 461.93 L1513.09 461.95 L1513.53 461.81 L1514.15 461.42 L1514.88 460.96 L1515.49 460.76 L1515.93 460.84 L1516.30 461.04 L1516.62 461.29 L1516.92 461.58 L1517.21 461.88 L1517.46 462.20 L1517.66 462.57 L1517.74 463.01 L1517.54 463.62 L1517.08 464.35 L1516.69 464.97 L1516.55 465.41 L1516.57 465.74 L1516.66 466.03 L1516.81 466.30 L1517.03 466.55 L1517.44 466.76 L1518.15 466.92 L1518.99 467.11 L1519.56 467.41 L1519.82 467.78 L1519.94 468.18 L1519.99 468.59 L1520.00 469.00 L1519.99 469.41 L1519.94 469.82 L1519.82 470.22 L1519.56 470.59 L1518.99 470.89 L1518.15 471.08 L1517.44 471.24 L1517.03 471.45 L1516.81 471.70 L1516.66 471.97 L1516.57 472.26 L1516.55 472.59 L1516.69 473.03 L1517.08 473.65 L1517.54 474.38 L1517.74 474.99 L1517.66 475.43 L1517.46 475.80 L1517.21 476.12 L1516.92 476.42 L1516.62 476.71 L1516.30 476.96 L1515.93 477.16 L1515.49 477.24 L1514.88 477.04 L1514.15 476.58 L1513.53 476.19 L1513.09 476.05 L1512.76 476.07 L1512.47 476.16 L1512.20 476.31 L1511.95 476.53 L1511.74 476.94 L1511.58 477.65 L1511.39 478.49 L1511.09 479.06 L1510.72 479.32 L1510.32 479.44 L1509.91 479.49 L1509.50 479.50 L1509.09 479.49 L1508.68 479.44 L1508.28 479.32 L1507.91 479.06 L1507.61 478.49 L1507.42 477.65 L1507.26 476.94 L1507.05 476.53 L1506.80 476.31 L1506.53 476.16 L1506.24 476.07 L1505.91 476.05 L1505.47 476.19 L1504.85 476.58 L1504.12 477.04 L1503.51 477.24 L1503.07 477.16 L1502.70 476.96 L1502.38 476.71 L1502.08 476.42 L1501.79 476.12 L1501.54 475.80 L1501.34 475.43 L1501.26 474.99 L1501.46 474.38 L1501.92 473.65 L1502.31 473.03 L1502.45 472.59 L1502.43 472.26 L1502.34 471.97 L1502.19 471.70 L1501.97 471.45 L1501.56 471.24 L1500.85 471.08 L1500.01 470.89 L1499.44 470.59 L1499.18 470.22 L1499.06 469.82 L1499.01 469.41 L1499.00 469.00 L1499.01 468.59 L1499.06 468.18 L1499.18 467.78 L1499.44 467.41 L1500.01 467.11 L1500.85 466.92 L1501.56 466.76 L1501.97 466.55 L1502.19 466.30 L1502.34 466.03 L1502.43 465.74 L1502.45 465.41 L1502.31 464.97 L1501.92 464.35 L1501.46 463.62 L1501.26 463.01 L1501.34 462.57 L1501.54 462.20 L1501.79 461.88 L1502.08 461.58 L1502.38 461.29 L1502.70 461.04 L1503.07 460.84 L1503.51 460.76 L1504.12 460.96 L1504.85 461.42 L1505.47 461.81 L1505.91 461.95 L1506.24 461.93 L1506.53 461.84 L1506.80 461.69 L1507.05 461.47 L1507.26 461.06 L1507.42 460.35 L1507.61 459.51 L1507.91 458.94 L1508.28 458.68 L1508.68 458.56 L1509.09 458.51Z" stroke="#c3c5cd" stroke-width="1.45" fill="none" stroke-linejoin="round"/>
<circle cx="1509.5" cy="469" r="4.3" stroke="#c3c5cd" stroke-width="1.35" fill="none"/>
<path d="M1477.6 466.6L1470.8 460.0 M1474.5 460.0L1470.8 460.0L1470.8 463.7 M1482.4 466.6L1489.2 460.0 M1485.5 460.0L1489.2 460.0L1489.2 463.7 M1477.6 471.4L1470.8 478.0 M1474.5 478.0L1470.8 478.0L1470.8 474.3 M1482.4 471.4L1489.2 478.0 M1485.5 478.0L1489.2 478.0L1489.2 474.3" stroke="#c3c5cd" stroke-width="1.35" fill="none" stroke-linecap="square" stroke-linejoin="miter"/>
<circle cx="1103.8" cy="514" r="8.7" fill="#6acd63"/>
<text x="1118.3" y="519.4" font-size="15.5" fill="#aeb1bc" text-anchor="start" font-weight="normal" >Completed</text>
<circle cx="1215.3" cy="514" r="8.7" fill="#4ecdc4"/>
<text x="1230.4" y="519.4" font-size="15.5" fill="#aeb1bc" text-anchor="start" font-weight="normal" >Remaining</text>
<circle cx="1323" cy="514" r="8.7" fill="#f1574a"/>
<text x="1337.7" y="519.4" font-size="15.5" fill="#aeb1bc" text-anchor="start" font-weight="normal" >Overdue</text>
<rect x="1224.40" y="539" width="1.2" height="220" fill="#2b2e3b"/>
<text x="1225.0" y="783.4" font-size="15.5" fill="#e9e9ed" text-anchor="middle" font-weight="normal" >0</text>
<rect x="1299.65" y="539" width="1.2" height="220" fill="#2b2e3b"/>
<text x="1300.25" y="783.4" font-size="15.5" fill="#e9e9ed" text-anchor="middle" font-weight="normal" >2</text>
<rect x="1374.90" y="539" width="1.2" height="220" fill="#2b2e3b"/>
<text x="1375.5" y="783.4" font-size="15.5" fill="#e9e9ed" text-anchor="middle" font-weight="normal" >4</text>
<rect x="1450.15" y="539" width="1.2" height="220" fill="#2b2e3b"/>
<text x="1450.75" y="783.4" font-size="15.5" fill="#e9e9ed" text-anchor="middle" font-weight="normal" >6</text>
<rect x="1525.40" y="539" width="1.2" height="220" fill="#2b2e3b"/>
<text x="1526.0" y="783.4" font-size="15.5" fill="#e9e9ed" text-anchor="middle" font-weight="normal" >8</text>
<text x="1095.1" y="562.8" font-size="15.5" fill="#f4f4f6" text-anchor="start" font-weight="normal" letter-spacing="0.1" >Mike</text>
<rect x="1225.00" y="548.4" width="149.80" height="18.3" fill="#88bd57"/>
<text x="1095.1" y="600.8" font-size="15.5" fill="#f4f4f6" text-anchor="start" font-weight="normal" letter-spacing="0.1" >Jennifer</text>
<rect x="1225.00" y="586.4" width="74.80" height="18.3" fill="#88bd57"/>
<rect x="1300.40" y="586.4" width="74.40" height="18.3" fill="#54d1fb"/>
<text x="1095.1" y="638.8" font-size="15.5" fill="#f4f4f6" text-anchor="start" font-weight="normal" letter-spacing="0.1" >Brandon</text>
<rect x="1225.00" y="624.4" width="35.00" height="18.3" fill="#54d1fb"/>
<text x="1095.1" y="676.8" font-size="15.5" fill="#f4f4f6" text-anchor="start" font-weight="normal" letter-spacing="0.1" >Sam</text>
<rect x="1225.00" y="662.4" width="113.60" height="18.3" fill="#54d1fb"/>
<text x="1095.1" y="714.8" font-size="15.5" fill="#f4f4f6" text-anchor="start" font-weight="normal" letter-spacing="0.1" >George</text>
<rect x="1225.00" y="700.4" width="35.00" height="18.3" fill="#54d1fb"/>
</svg></body></html>
